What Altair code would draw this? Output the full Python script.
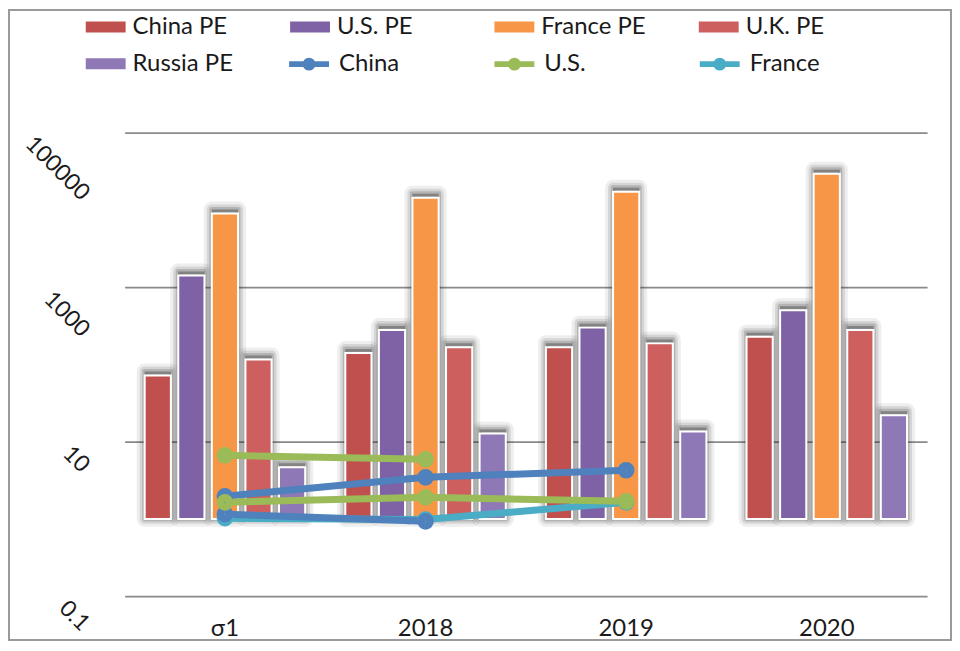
import altair as alt
import pandas as pd

categories = ["σ1", "2018", "2019", "2020"]

bar_series = ["China PE", "U.S. PE", "France PE", "U.K. PE", "Russia PE"]
china_pe = [72, 140, 167, 228]
us_pe = [1416, 278, 299, 503]
france_pe = [8970, 14350, 17140, 29300]
uk_pe = [116, 167, 187, 278]
russia_pe = [4.66, 12.7, 13.5, 21.9]

line_series = ["China", "U.S.", "France", "U.K.", "Russia"]
china_line = [1.96, 3.45, 4.26, None]
us_line = [6.65, 5.9, None, None]
france_line = [1.02, 0.98, 1.64, None]
uk_line = [1.15, 0.93, None, None]
russia_line = [1.64, 1.90, 1.69, None]

line_legend_items = ["China", "U.S.", "France"]
bar_colors = ["#C0504D", "#7F62A5", "#F79646", "#CD5F5E", "#8F78B6"]
line_colors = ["#4F81BD", "#9BBB59", "#4BACC6", "#4F81BD", "#9BBB59"]

bar_rows = []
for s, vals in zip(bar_series, [china_pe, us_pe, france_pe, uk_pe, russia_pe]):
    for c, v in zip(categories, vals):
        bar_rows.append({"category": c, "series": s, "value": v, "base": 1})
bars_df = pd.DataFrame(bar_rows)

line_rows = []
for s, vals in zip(line_series, [china_line, us_line, france_line, uk_line, russia_line]):
    for i, (c, v) in enumerate(zip(categories, vals)):
        if v is not None:
            line_rows.append({"category": c, "series": s, "value": v, "idx": i})
lines_df = pd.DataFrame(line_rows)

FONT = "Lato"
TXT = "#1a1a1a"

RECT_PATH = "M-1,-0.275H1V0.275H-1Z"
LINE_PATH = "M-1,0H1M0.17,0A0.17,0.17,0,1,1,-0.17,0A0.17,0.17,0,1,1,0.17,0"

fill_legend = alt.Legend(
    title=None, orient="none", legendX=-39, legendY=-126, columns=4,
    direction="horizontal", values=bar_series,
    gridAlign="all", columnPadding=53, rowPadding=5,
    labelFont=FONT, labelFontSize=24, labelColor=TXT, labelOffset=7,
    symbolType=RECT_PATH, symbolSize=1600, symbolStrokeWidth=0, labelLimit=300,
    padding=0)
stroke_legend = alt.Legend(
    title=None, orient="none", legendX=162, legendY=-92, columns=3,
    direction="horizontal", values=line_legend_items,
    gridAlign="all", columnPadding=73, rowPadding=0,
    labelFont=FONT, labelFontSize=24, labelColor=TXT, labelOffset=7,
    symbolType=LINE_PATH, symbolSize=1600, symbolStrokeWidth=6, labelLimit=300,
    padding=0)

x_enc = alt.X("category:N", sort=categories,
              scale=alt.Scale(domain=categories, paddingInner=0.2, paddingOuter=0.1),
              axis=alt.Axis(title=None, labelFont=FONT, labelFontSize=24, labelColor=TXT,
                            domain=False, ticks=False, labelPadding=20, labelAngle=0))
y_scale = alt.Scale(type="log", domain=[0.1, 100000], nice=False)
y_axis = alt.Axis(
    title=None, values=[0.1, 10, 1000, 100000], format="~g",
    labelFont=FONT, labelFontSize=23, labelColor=TXT,
    labelAngle=45, labelAlign="right", labelBaseline="top",
    labelOffset={"condition": [
        {"test": "datum.value >= 100000", "value": 56},
        {"test": "datum.value >= 1000", "value": 38},
        {"test": "datum.value >= 10", "value": 19}], "value": 23},
    ticks=False, tickSize=0, labelPadding=32, domain=False,
    grid=True, gridColor="#8a8a8a", gridWidth=1.6)
xoff = alt.XOffset("series:N", sort=bar_series,
                   scale=alt.Scale(domain=bar_series, paddingInner=0.22, paddingOuter=0))

base_bars = alt.Chart(bars_df)
y_enc = alt.Y("value:Q", scale=y_scale, axis=y_axis)


def shadow_layer(width, opacity):
    return base_bars.mark_bar(color="#222222", fillOpacity=opacity, stroke="#222222",
                              strokeWidth=width, strokeOpacity=opacity,
                              strokeJoin="round", xOffset=4, yOffset=-4).encode(
        x=x_enc, xOffset=xoff, y=y_enc, y2="base:Q")


shadows = [shadow_layer(16, 0.08), shadow_layer(10, 0.12), shadow_layer(5, 0.18)]

bars = base_bars.mark_bar(stroke="white", strokeWidth=2).encode(
    x=x_enc, xOffset=xoff, y=y_enc, y2="base:Q",
    fill=alt.Fill("series:N", scale=alt.Scale(domain=bar_series, range=bar_colors),
                  legend=fill_legend))

stroke_enc = alt.Stroke("series:N", scale=alt.Scale(domain=line_series, range=line_colors),
                        legend=stroke_legend)
line_base = alt.Chart(lines_df).encode(
    x=x_enc, y=y_enc, stroke=stroke_enc, order=alt.Order("idx:Q"))
lines = line_base.mark_line(strokeWidth=7)
points = line_base.mark_point(shape="circle", filled=False, size=60, strokeWidth=9, opacity=1)

border = alt.Chart(pd.DataFrame({"k": [0]})).mark_rect(
    fill="transparent", stroke="#9a9a9a", strokeWidth=2).encode(
    x=alt.value(-116), x2=alt.value(829), y=alt.value(-123), y2=alt.value(509))

chart = alt.layer(*shadows, bars, lines, points, border).properties(
    width=805, height=465,
    autosize=alt.AutoSizeParams(type="none"),
    padding={"left": 117, "top": 124, "right": 25, "bottom": 45},
    background="white",
).configure_view(stroke=None)

chart.save("out.html", embed_options={"renderer": "svg", "actions": False})
